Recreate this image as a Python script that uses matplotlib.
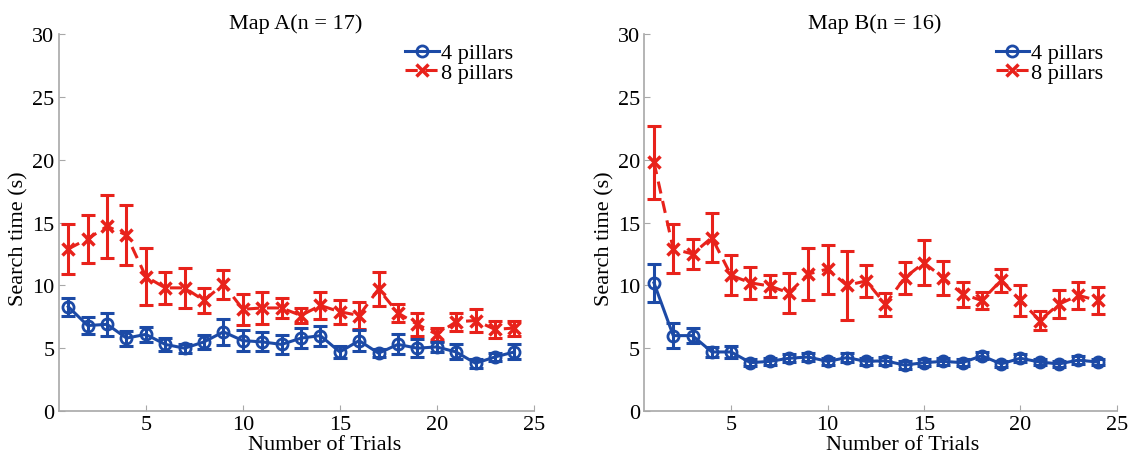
import matplotlib.pyplot as plt
import numpy as np

plt.rcParams['font.family'] = ['Liberation Serif', 'DejaVu Serif']

trials = np.arange(1, 25)

# Map A (n = 17)
a_four = [8.3, 6.8, 6.9, 5.8, 6.1, 5.3, 5.0, 5.5, 6.3, 5.6, 5.5, 5.3,
          5.8, 6.0, 4.7, 5.6, 4.6, 5.3, 5.0, 5.1, 4.7, 3.8, 4.3, 4.7]
a_four_err = [0.7, 0.7, 0.9, 0.6, 0.6, 0.55, 0.35, 0.55, 1.05, 0.85, 0.75, 0.75,
              0.8, 0.8, 0.5, 0.85, 0.3, 0.8, 0.7, 0.4, 0.6, 0.35, 0.3, 0.6]
a_eight = [12.9, 13.7, 14.7, 14.0, 10.7, 9.8, 9.8, 8.8, 10.1, 8.1, 8.2, 8.2,
           7.6, 8.4, 7.9, 7.6, 9.7, 7.8, 6.9, 6.1, 7.1, 7.2, 6.5, 6.6]
a_eight_err = [2.0, 1.9, 2.5, 2.4, 2.3, 1.25, 1.6, 1.0, 1.15, 1.25, 1.3, 0.8,
               0.6, 1.05, 0.95, 1.05, 1.35, 0.75, 0.9, 0.5, 0.7, 0.9, 0.7, 0.6]

# Map B (n = 16)
b_four = [10.2, 6.0, 6.0, 4.7, 4.7, 3.85, 3.95, 4.2, 4.3, 3.95, 4.25, 3.95,
          4.0, 3.65, 3.85, 3.95, 3.85, 4.4, 3.75, 4.2, 3.9, 3.75, 4.05, 3.9]
b_four_err = [1.5, 1.0, 0.6, 0.4, 0.5, 0.3, 0.3, 0.3, 0.3, 0.25, 0.35, 0.3,
              0.3, 0.3, 0.3, 0.3, 0.3, 0.3, 0.25, 0.3, 0.25, 0.25, 0.3, 0.25]
b_eight = [19.8, 12.9, 12.5, 13.8, 10.8, 10.2, 9.95, 9.4, 10.9, 11.3, 10.0, 10.35,
           8.5, 10.6, 11.8, 10.6, 9.3, 8.8, 10.4, 8.8, 7.2, 8.5, 9.2, 8.8]
b_eight_err = [2.9, 1.95, 1.2, 1.95, 1.6, 1.25, 0.85, 1.6, 2.1, 1.95, 2.75, 1.25,
               0.9, 1.25, 1.8, 1.35, 1.0, 0.65, 0.9, 1.25, 0.75, 1.1, 1.05, 1.1]

titles = ['Map A(n = 17)', 'Map B(n = 16)']
blue = '#1c4aa6'
red = '#e8221b'
axis_grey = '#a8a8a8'
fs = 16

fig = plt.figure(figsize=(11.29, 4.6), dpi=100)
ax_a = fig.add_axes([0.0519, 0.1043, 0.4208, 0.8196])
ax_b = fig.add_axes([0.5707, 0.1043, 0.4185, 0.8196])

# per panel: x label centre, title centre, legend right edge (axes fraction)
panels = [(ax_a, a_four, a_four_err, a_eight, a_eight_err, 0.56, 0.5, 0.975),
          (ax_b, b_four, b_four_err, b_eight, b_eight_err, 0.547, 0.488, 0.99)]

for i, (ax, four, four_err, eight, eight_err, xlab_x, title_x, leg_x) in enumerate(panels):
    ax.errorbar(trials, eight, yerr=eight_err, fmt='none', ecolor=red,
                elinewidth=2.2, capsize=5, capthick=2.2, zorder=2)
    ax.plot(trials, eight, color=red, lw=2.2, ls=(0, (4, 2.5)), marker='x',
            ms=9, mew=2.5, label='8 pillars', zorder=3)
    ax.errorbar(trials, four, yerr=four_err, fmt='none', ecolor=blue,
                elinewidth=2.2, capsize=5, capthick=2.2, zorder=4)
    ax.plot(trials, four, color=blue, lw=2.2, marker='o', ms=8, mew=2,
            mfc='none', label='4 pillars', zorder=5)

    ax.set_xlim(0.5, 25)
    ax.set_ylim(0, 30)
    ax.set_xticks([5, 10, 15, 20, 25])
    ax.set_yticks([0, 5, 10, 15, 20, 25, 30])
    for side in ['top', 'right']:
        ax.spines[side].set_visible(False)
    for side in ['left', 'bottom']:
        ax.spines[side].set_color(axis_grey)
        ax.spines[side].set_linewidth(1.2)
    ax.tick_params(direction='in', length=4, color=axis_grey, labelsize=fs)
    ax.tick_params(axis='y', pad=3)
    ax.tick_params(axis='x', pad=3)
    ax.set_xlabel('Number of Trials', fontsize=fs)
    ax.xaxis.set_label_coords(xlab_x, -0.064)
    ax.set_ylabel('Search time (s)', fontsize=fs)
    ax.yaxis.set_label_coords(-0.064, 0.459)
    ax.set_title(titles[i], fontsize=fs, x=title_x, pad=4)

    handles, labels = ax.get_legend_handles_labels()
    ax.legend(handles[::-1], labels[::-1], loc='upper right', frameon=False,
              fontsize=fs, handlelength=1.5, handletextpad=0.1,
              labelspacing=-0.05, borderaxespad=0.0,
              bbox_to_anchor=(leg_x, 1.0))

fig.savefig('out.png', dpi=100)
